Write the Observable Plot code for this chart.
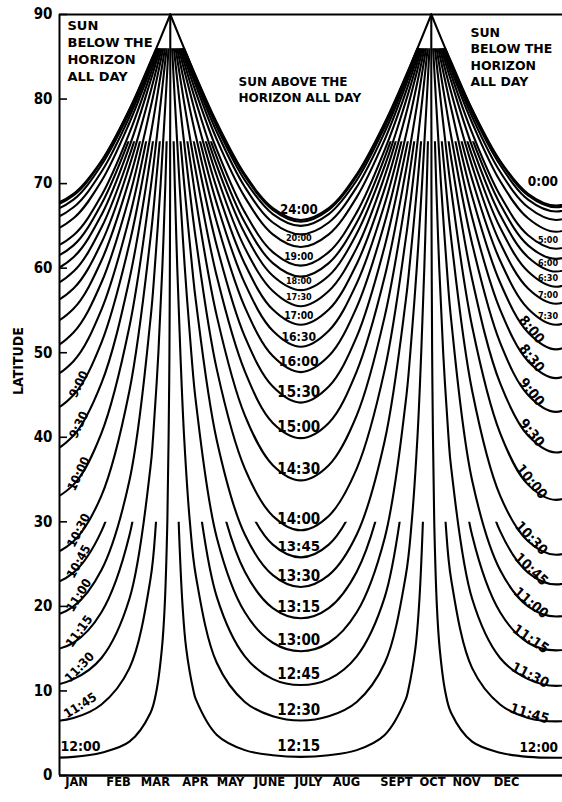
<!DOCTYPE html>
<html><head><meta charset="utf-8">
<script src="https://cdn.jsdelivr.net/npm/d3@7"></script>
<script src="https://cdn.jsdelivr.net/npm/@observablehq/plot@0.6"></script>
<style>body{margin:0;background:#fff}</style>
</head><body><div id="chart"></div>
<script>
// ================= DATA =================
const N = null;
const latTicks = [0,10,20,30,40,50,60,70,80,90];
const monthNames = ["JAN","FEB","MAR","APR","MAY","JUNE","JULY","AUG","SEPT","OCT","NOV","DEC"];
const monthLabelDays = [12.2,42.2,68.6,97.2,122.3,150.2,178.0,205.2,240.9,266.7,291.0,319.6];
const juneSolsticeDay = 172.5, decSolsticeDay = 355, yearDays = 365;
const sampleOffsets = [0,20,40,60,75];              // days from the solstice
const latGrid = [5,10,15,20,30,40,50,60,70,75,80,86,90];

// winter contours (day length < 12 h), centred on the December solstice
const winterHours = [0,1,2,3,4,5,5.5,6,6.5,7,7.5,8,8.5,9,9.5,10,10.5,10.75,11,11.25,11.5,11.75,12];
const winterLatAtOffset = [
 [67.4,68.8,72.7,78.8,84.4],[67.2,68.6,72.6,78.7,84.3],[66.7,68.1,72.2,78.4,84.2],
 [65.7,67.2,71.4,77.9,83.9],[64.3,65.9,70.3,77.2,83.5],[62.3,63.9,68.6,76.0,82.9],
 [61.1,62.7,67.6,75.3,82.5],[59.6,61.3,66.3,74.4,82.1],[57.8,59.6,64.8,73.3,81.5],
 [55.8,57.6,63.0,72.1,80.8],[53.3,55.2,60.9,70.5,79.9],[50.4,52.4,58.3,68.5,78.9],
 [47.0,49.0,55.1,66.0,77.5],[43.0,45.0,51.2,62.9,75.6],[38.2,40.2,46.4,58.7,73.0],
 [32.6,34.4,40.5,53.1,69.3],[26.1,27.7,33.1,45.5,63.5],[22.6,24.0,28.9,40.6,59.4],
 [18.8,20.0,24.3,34.9,53.9],[14.8,15.7,19.3,28.4,46.4],[10.6,11.4,13.9,20.9,36.4],
 [6.4,6.8,8.4,12.7,23.2],[2.1,2.2,2.7,4.0,7.4]
];
const winterOffsetAtLat = [
 [N,N,N,N,N,N,N,N,N,N,N,79.2,89.2],
 [N,N,N,N,N,N,N,N,N,N,N,79.3,89.2],
 [N,N,N,N,N,N,N,N,N,N,N,79.5,89.2],
 [N,N,N,N,N,N,N,N,N,N,N,80.0,89.2],
 [N,N,N,N,N,N,N,N,N,N,N,80.5,89.2],
 [N,N,N,N,N,N,N,N,N,N,N,81.3,89.2],
 [N,N,N,N,N,N,N,N,N,N,N,81.7,89.2],
 [N,N,N,N,N,N,N,N,N,N,N,82.1,89.2],
 [N,N,N,N,N,N,N,N,N,N,N,82.6,89.2],
 [N,N,N,N,N,N,N,N,N,N,N,83.1,89.2],
 [N,N,N,N,N,N,N,N,N,N,N,83.6,89.2],
 [N,N,N,N,N,N,N,N,N,N,76.5,84.2,89.2],
 [N,N,N,N,N,N,N,N,N,N,78.0,84.8,89.2],
 [N,N,N,N,N,N,N,N,N,N,79.5,85.4,89.2],
 [N,N,N,N,N,N,N,N,N,76.8,81.1,86.0,89.2],
 [N,N,N,N,N,N,N,N,N,79.2,82.6,86.6,89.2],
 [N,N,N,N,N,N,N,N,78.9,81.7,84.3,87.2,89.2],
 [N,N,N,N,N,N,N,N,80.6,82.9,85.1,87.6,89.2],
 [N,N,N,N,N,N,N,78.1,82.3,84.1,85.9,87.9,89.2],
 [N,N,N,N,N,N,76.8,80.8,84.0,85.4,86.7,88.2,89.2],
 [N,N,N,N,N,76.9,80.7,83.5,85.7,86.6,87.5,88.5,89.2],
 [N,N,N,N,79.0,82.5,84.6,86.2,87.4,87.9,88.3,88.9,89.2],
 [N,79.3,83.2,85.2,87.1,88.0,88.6,88.9,89.1,89.1,89.2,89.2,89.2]
];

// summer contours (day length > 12 h), centred on the June solstice
const summerHours = [12.25,12.5,12.75,13,13.25,13.5,13.75,14,14.5,15,15.5,16,16.5,17,17.5,18,18.5,19,20,21,22,23,24];
const summerLatAtOffset = [
 [2.2,2.4,3.0,4.8,9.0],[6.5,7.0,8.7,13.3,23.6],[10.7,11.4,14.1,21.1,35.2],
 [14.7,15.7,19.3,28.1,44.2],[18.6,19.8,24.1,34.3,50.9],[22.3,23.7,28.5,39.6,56.1],
 [25.8,27.3,32.6,44.1,60.2],[29.0,30.7,36.3,48.0,63.4],[34.9,36.7,42.6,54.3,68.1],
 [39.9,41.7,47.8,59.0,71.4],[44.1,46.0,51.9,62.6,73.8],[47.7,49.6,55.4,65.4,75.6],
 [50.7,52.6,58.2,67.6,77.0],[53.3,55.1,60.5,69.4,78.1],[55.5,57.3,62.4,70.9,79.0],
 [57.4,59.1,64.1,72.1,79.7],[59.0,60.6,65.4,73.1,80.3],[60.3,61.9,66.6,74.0,80.8],
 [62.5,64.0,68.4,75.2,81.6],[64.0,65.4,69.6,76.1,82.1],[65.0,66.4,70.4,76.7,82.4],
 [65.5,66.9,70.9,77.0,82.6],[65.7,67.1,71.1,77.2,82.7]
];
const summerOffsetAtLat = [
 [N,76.7,81.9,84.5,87.3,88.9,90.0,91.0,91.8,92.1,92.5,93.0,93.3],
 [N,N,N,N,79.3,83.4,86.1,88.3,90.1,90.9,91.7,92.7,93.3],
 [N,N,N,N,N,77.8,82.2,85.6,88.4,89.7,90.9,92.3,93.3],
 [N,N,N,N,N,N,78.3,82.9,86.7,88.4,90.1,92.0,93.3],
 [N,N,N,N,N,N,N,80.2,85.0,87.2,89.3,91.7,93.3],
 [N,N,N,N,N,N,N,77.6,83.4,86.0,88.5,91.4,93.3],
 [N,N,N,N,N,N,N,N,81.7,84.7,87.7,91.1,93.3],
 [N,N,N,N,N,N,N,N,80.0,83.5,86.9,90.7,93.3],
 [N,N,N,N,N,N,N,N,76.7,81.1,85.3,90.1,93.3],
 [N,N,N,N,N,N,N,N,N,78.8,83.8,89.5,93.3],
 [N,N,N,N,N,N,N,N,N,76.5,82.3,88.9,93.3],
 [N,N,N,N,N,N,N,N,N,N,80.8,88.4,93.3],
 [N,N,N,N,N,N,N,N,N,N,79.4,87.8,93.3],
 [N,N,N,N,N,N,N,N,N,N,78.0,87.3,93.3],
 [N,N,N,N,N,N,N,N,N,N,76.7,86.8,93.3],
 [N,N,N,N,N,N,N,N,N,N,N,86.3,93.3],
 [N,N,N,N,N,N,N,N,N,N,N,85.9,93.3],
 [N,N,N,N,N,N,N,N,N,N,N,85.4,93.3],
 [N,N,N,N,N,N,N,N,N,N,N,84.7,93.3],
 [N,N,N,N,N,N,N,N,N,N,N,84.1,93.3],
 [N,N,N,N,N,N,N,N,N,N,N,83.7,93.3],
 [N,N,N,N,N,N,N,N,N,N,N,83.5,93.3],
 [N,N,N,N,N,N,N,N,N,N,N,83.4,93.3]
];

// which contours carry a printed label, and where
const centerLabelHours = [12.25,12.5,12.75,13,13.25,13.5,13.75,14,14.5,15,15.5,16,16.5,17,17.5,18,19,20,24];
const leftLabelHours = [9,9.5,10,10.5,10.75,11,11.25,11.5,11.75];
const leftFlatLabelHours = [12];
const rightTopLabelHours = [0];
const rightFlatLabelHours = [5,6,6.5,7,7.5,12];
const rightSlopeLabelHours = [8,8.5,9,9.5,10,10.5,10.75,11,11.25,11.5,11.75];
const regionNotes = ["SUN\nBELOW THE\nHORIZON\nALL DAY", "SUN ABOVE THE\nHORIZON ALL DAY", "SUN\nBELOW THE\nHORIZON\nALL DAY"];

// ================= LAYOUT / STYLE =================
const W = 562, H = 802, mL = 59, mR = 0, mT = 14, mB = 27;
const xDomain = [0, 359.6], yDomain = [0, 90];
const kx = (W - mL - mR) / (xDomain[1] - xDomain[0]);
const ky = (H - mT - mB) / (yDomain[1] - yDomain[0]);
const F = "'DejaVu Sans', sans-serif";
const FC = "'DejaVu Sans Condensed', 'DejaVu Sans', sans-serif";
const notePos = [{day: 5.7, lat: 89.6, fs: 13}, {day: 128, lat: 82.8, fs: 12}, {day: 293.8, lat: 88.7, fs: 12.5}];

function capFor(h) {              // drafting: upper latitude at which a contour stops
  if (h === 0 || h === 24 || h === 12) return 90;
  const f = h % 1;
  if (f === 0) return 86;
  if (f === 0.5) return 75;
  return 30;
}
const fmt = h => { const hh = Math.floor(h), mm = Math.round((h - hh) * 60); return `${hh}:${String(mm).padStart(2, "0")}`; };

function halfCurve(latRow, offRow) {
  const pts = sampleOffsets.map((o, i) => [o, latRow[i]]);
  latGrid.forEach((g, i) => { if (offRow[i] != null) pts.push([offRow[i], g]); });
  return pts;
}
function uCurve(half, center) {
  const left = half.slice(1).reverse().map(([o, l]) => ({day: center - o, lat: l}));
  const right = half.map(([o, l]) => ({day: center + o, lat: l}));
  return left.concat(right);
}

const lineMarks = [], caps = [];
function addContour(h, half, centers) {
  for (const c of centers) {
    lineMarks.push(Plot.line(uCurve(half, c), {x: "day", y: "lat", curve: "catmull-rom", stroke: "#000", strokeWidth: 2.1, strokeLinecap: "round"}));
    caps.push(capFor(h));
  }
}
winterHours.forEach((h, i) => addContour(h, halfCurve(winterLatAtOffset[i], winterOffsetAtLat[i]), [decSolsticeDay - yearDays, decSolsticeDay]));
summerHours.forEach((h, i) => addContour(h, halfCurve(summerLatAtOffset[i], summerOffsetAtLat[i]), [juneSolsticeDay]));

// labels derived from the contour data
const slopeAngle = (row, k) => Math.atan2((row[k] - row[0]) * ky, (sampleOffsets[k] - sampleOffsets[0]) * kx) * 180 / Math.PI;
const centerLabels = centerLabelHours.map(h => {
  const i = summerHours.indexOf(h);
  const next = summerLatAtOffset[i + 1];
  const gap = next ? (next[0] - summerLatAtOffset[i][0]) * ky : 24;
  return {day: juneSolsticeDay, lat: summerLatAtOffset[i][0], text: fmt(h), size: Math.max(9, Math.min(15, gap * 0.55))};
});
const leftLabels = leftLabelHours.map(h => {
  const row = winterLatAtOffset[winterHours.indexOf(h)];
  return {day: decSolsticeDay - yearDays + sampleOffsets[1], lat: row[1], text: fmt(h), angle: -slopeAngle(row, 3), size: 12.5};
});
const leftFlatLabels = leftFlatLabelHours.map(h => {
  const row = winterLatAtOffset[winterHours.indexOf(h)];
  return {day: decSolsticeDay - yearDays + sampleOffsets[1], lat: row[1], text: fmt(h), size: 14};
});
const rightSlopeLabels = rightSlopeLabelHours.map(h => {
  const row = winterLatAtOffset[winterHours.indexOf(h)];
  return {day: decSolsticeDay - sampleOffsets[1], lat: row[1], text: fmt(h), angle: slopeAngle(row, 2), size: 14};
});
const flatLabel = h => {
  const row = winterLatAtOffset[winterHours.indexOf(h)];
  return {day: decSolsticeDay, lat: row[0], text: fmt(h), size: (h === 0 || h === 12) ? 13.5 : 9};
};
const rightFlatLabels = rightFlatLabelHours.map(flatLabel);
const rightTopLabels = rightTopLabelHours.map(flatLabel);
const notes = regionNotes.map((t, i) => ({text: t, ...notePos[i]}));
const T = {fontWeight: "bold", fontFamily: FC, fill: "#000"};

const plot = Plot.plot({
  width: W, height: H, marginLeft: mL, marginRight: mR, marginTop: mT, marginBottom: mB,
  x: {domain: xDomain, axis: null},
  y: {domain: yDomain, axis: null},
  style: {background: "#fff", color: "#000"},
  marks: [
    ...lineMarks,
    Plot.ruleX([xDomain[0]], {stroke: "#000", strokeWidth: 2}),
    Plot.ruleY([0], {stroke: "#000", strokeWidth: 2.5}),
    Plot.ruleY([90], {stroke: "#000", strokeWidth: 2}),
    Plot.tickY(latTicks, {y: d => d, insetRight: W - mL - mR - 8, stroke: "#000", strokeWidth: 1.6}),
    Plot.text(latTicks, {y: d => d, text: d => String(d), frameAnchor: "left", dx: -7, textAnchor: "end", fontSize: 15, ...T}),
    Plot.text(["LATITUDE"], {frameAnchor: "left", dx: -41, rotate: -90, fontSize: 14, ...T}),
    Plot.text(monthNames, {x: monthLabelDays, text: d => d, frameAnchor: "bottom", dy: 10, fontSize: 11.5, ...T, fontFamily: F}),
    Plot.text(notes, {x: "day", y: "lat", text: "text", textAnchor: "start", lineAnchor: "top", fontSize: d => d.fs, lineHeight: 1.3, ...T, fontFamily: F}),
    Plot.text(centerLabels, {x: "day", y: "lat", text: "text", fontSize: "size", lineAnchor: "bottom", dx: -2, dy: -6, ...T}),
    Plot.text(leftLabels, {x: "day", y: "lat", text: "text", fontSize: "size", rotate: "angle", lineAnchor: "bottom", dx: 9, dy: -9, ...T}),
    Plot.text(leftFlatLabels, {x: "day", y: "lat", text: "text", fontSize: "size", lineAnchor: "bottom", dx: 7, dy: -6, ...T}),
    Plot.text(rightSlopeLabels, {x: "day", y: "lat", text: "text", fontSize: "size", rotate: "angle", lineAnchor: "bottom", ...T}),
    Plot.text(rightFlatLabels, {x: "day", y: "lat", text: "text", fontSize: "size", textAnchor: "end", lineAnchor: "bottom", dx: 2, dy: -6, ...T}),
    Plot.text(rightTopLabels, {x: "day", y: "lat", text: "text", fontSize: "size", textAnchor: "end", lineAnchor: "bottom", dx: 2, dy: -20, ...T})
  ]
});

// stop each contour at its drafting latitude (clip through the y scale)
const ys = plot.scale("y");
const yPx = v => (typeof ys.apply === "function") ? ys.apply(v)
  : ys.range[0] + (v - ys.domain[0]) / (ys.domain[1] - ys.domain[0]) * (ys.range[1] - ys.range[0]);
const ns = "http://www.w3.org/2000/svg";
const defs = document.createElementNS(ns, "defs");
for (const c of [...new Set(caps)]) {
  const cp = document.createElementNS(ns, "clipPath");
  cp.setAttribute("id", "cap" + c);
  const r = document.createElementNS(ns, "rect");
  const top = yPx(c) - (c === 90 ? 3 : 0);
  r.setAttribute("x", mL); r.setAttribute("y", top);
  r.setAttribute("width", W - mL - mR); r.setAttribute("height", H - mB + 2 - top);
  cp.appendChild(r); defs.appendChild(cp);
}
plot.insertBefore(defs, plot.firstChild);
plot.querySelectorAll('g[aria-label="line"]').forEach((g, i) => g.setAttribute("clip-path", `url(#cap${caps[i]})`));
document.getElementById("chart").appendChild(plot);
</script>
</body></html>
